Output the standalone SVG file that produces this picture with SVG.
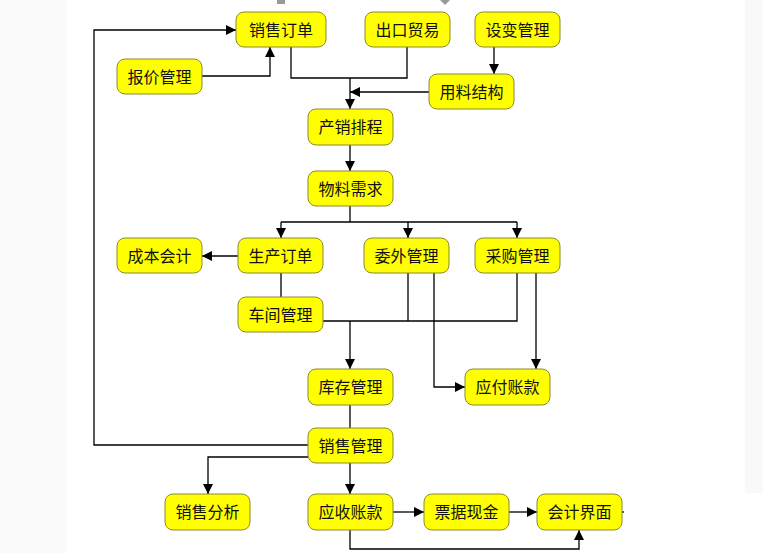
<svg xmlns="http://www.w3.org/2000/svg" width="763" height="553" viewBox="0 0 763 553">
<style>
.n rect{fill:#ffff00;stroke:#8a8a30;stroke-width:1}
.n text{font-family:"Noto Sans CJK SC","Microsoft YaHei",sans-serif;font-size:16px;fill:#111;text-anchor:middle}
.c path{fill:none;stroke:#000;stroke-width:1.3}
</style>
<defs>
<marker id="a" viewBox="0 0 10 10" refX="10" refY="5" markerWidth="10" markerHeight="10" markerUnits="userSpaceOnUse" orient="auto"><path d="M0,0L10,5L0,10z" fill="#000"/></marker>
</defs>
<rect width="763" height="553" fill="#ffffff"/>
<rect x="0" y="0" width="67" height="553" fill="#fafafa"/>
<rect x="745" y="0" width="18" height="493" fill="#f9f9f9"/>
<rect x="277" y="0" width="8" height="4" fill="#999"/>
<path d="M440,0L450,0L445,5z" fill="#999"/>
<g class="c">
<path d="M291,47V78H407V47"/>
<path d="M350,78V109" marker-end="url(#a)"/>
<path d="M429,92H350" marker-end="url(#a)"/>
<path d="M494,47V74" marker-end="url(#a)"/>
<path d="M202,76H270V47" marker-end="url(#a)"/>
<path d="M308,445H94V30H236" marker-end="url(#a)"/>
<path d="M350,145V171" marker-end="url(#a)"/>
<path d="M350,206V222"/>
<path d="M281,222H517"/>
<path d="M281,222V238" marker-end="url(#a)"/>
<path d="M408,222V238" marker-end="url(#a)"/>
<path d="M517,222V238" marker-end="url(#a)"/>
<path d="M238,256H202" marker-end="url(#a)"/>
<path d="M281,273V297"/>
<path d="M323,321H517V273"/>
<path d="M408,273V321"/>
<path d="M350,321V369" marker-end="url(#a)"/>
<path d="M434,273V387H465" marker-end="url(#a)"/>
<path d="M536,273V369" marker-end="url(#a)"/>
<path d="M350,405V428"/>
<path d="M308,457H208V494" marker-end="url(#a)"/>
<path d="M350,463V494" marker-end="url(#a)"/>
<path d="M392,512H424" marker-end="url(#a)"/>
<path d="M508,512H537" marker-end="url(#a)"/>
<path d="M621,512H624"/>
<path d="M350,530V549H579V530" marker-end="url(#a)"/>
</g>
<g id="n1" class="n"><rect x="236" y="12" width="90" height="35" rx="8"/><text x="281" y="35.5">销售订单</text></g>
<g id="n2" class="n"><rect x="365" y="12" width="85" height="35" rx="8"/><text x="407.5" y="35.5">出口贸易</text></g>
<g id="n3" class="n"><rect x="475" y="12" width="85" height="35" rx="8"/><text x="517.5" y="35.5">设变管理</text></g>
<g id="n4" class="n"><rect x="117" y="59" width="85" height="35" rx="8"/><text x="159.5" y="82.5">报价管理</text></g>
<g id="n5" class="n"><rect x="429" y="74" width="85" height="35" rx="8"/><text x="471.5" y="97.5">用料结构</text></g>
<g id="n6" class="n"><rect x="308" y="109" width="85" height="36" rx="8"/><text x="350.5" y="132.5">产销排程</text></g>
<g id="n7" class="n"><rect x="308" y="171" width="85" height="35" rx="8"/><text x="350.5" y="194.5">物料需求</text></g>
<g id="n8" class="n"><rect x="117" y="238" width="85" height="35" rx="8"/><text x="159.5" y="261.5">成本会计</text></g>
<g id="n9" class="n"><rect x="238" y="238" width="85" height="35" rx="8"/><text x="280.5" y="261.5">生产订单</text></g>
<g id="n10" class="n"><rect x="364" y="238" width="85" height="35" rx="8"/><text x="406.5" y="261.5">委外管理</text></g>
<g id="n11" class="n"><rect x="475" y="238" width="85" height="35" rx="8"/><text x="517.5" y="261.5">采购管理</text></g>
<g id="n12" class="n"><rect x="238" y="297" width="85" height="35" rx="8"/><text x="280.5" y="320.5">车间管理</text></g>
<g id="n13" class="n"><rect x="308" y="369" width="85" height="36" rx="8"/><text x="350.5" y="392.5">库存管理</text></g>
<g id="n14" class="n"><rect x="465" y="369" width="85" height="36" rx="8"/><text x="507.5" y="392.5">应付账款</text></g>
<g id="n15" class="n"><rect x="308" y="428" width="85" height="35" rx="8"/><text x="350.5" y="451.5">销售管理</text></g>
<g id="n16" class="n"><rect x="165" y="494" width="85" height="36" rx="8"/><text x="207.5" y="517.5">销售分析</text></g>
<g id="n17" class="n"><rect x="308" y="494" width="85" height="36" rx="8"/><text x="350.5" y="517.5">应收账款</text></g>
<g id="n18" class="n"><rect x="424" y="494" width="85" height="36" rx="8"/><text x="466.5" y="517.5">票据现金</text></g>
<g id="n19" class="n"><rect x="537" y="494" width="85" height="36" rx="8"/><text x="579.5" y="517.5">会计界面</text></g>
</svg>
